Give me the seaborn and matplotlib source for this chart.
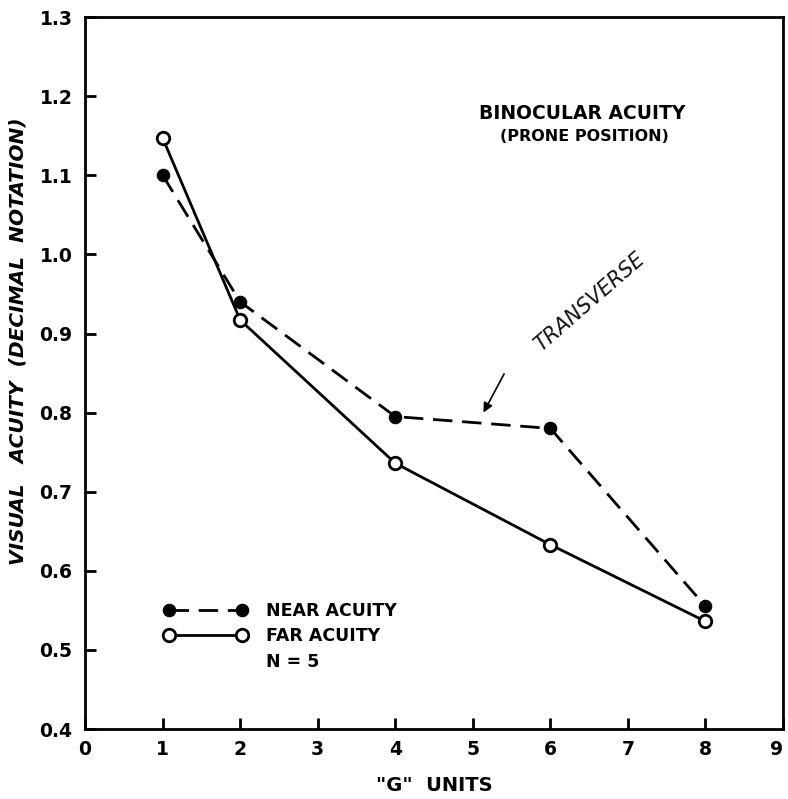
import matplotlib
matplotlib.use("Agg")
import matplotlib.pyplot as plt
from matplotlib.lines import Line2D
import seaborn as sns
import pandas as pd

# Visual acuity under increasing G load, binocular, prone position
g_units = [1, 2, 4, 6, 8]
near_acuity = [1.10, 0.94, 0.795, 0.78, 0.555]
far_acuity = [1.147, 0.917, 0.736, 0.633, 0.536]

x_ticks = [0, 1, 2, 3, 4, 5, 6, 7, 8, 9]
y_ticks = [0.4, 0.5, 0.6, 0.7, 0.8, 0.9, 1.0, 1.1, 1.2, 1.3]
y_tick_labels = ["0.4", "0.5", "0.6", "0.7", "0.8", "0.9", "1.0", "1.1", "1.2", "1.3"]

df = pd.DataFrame({"g": g_units, "near": near_acuity, "far": far_acuity})

sns.set_style("ticks")
plt.rcParams["font.family"] = ["DejaVu Sans"]
plt.rcParams["text.color"] = "black"
plt.rcParams["axes.labelcolor"] = "black"
plt.rcParams["xtick.color"] = "black"
plt.rcParams["ytick.color"] = "black"

fig = plt.figure(figsize=(7.88, 7.99), dpi=100)
ax = fig.add_axes([0.108, 0.0876, 0.8857, 0.891])

sns.lineplot(data=df, x="g", y="near", ax=ax, color="black", lw=2.0,
             dashes=False, linestyle=(0, (7, 3.5)), marker="o", markersize=9,
             markerfacecolor="black", markeredgecolor="black",
             label="NEAR ACUITY")
sns.lineplot(data=df, x="g", y="far", ax=ax, color="black", lw=2.0,
             linestyle="-", marker="o", markersize=9,
             markerfacecolor="white", markeredgecolor="black", markeredgewidth=2.0,
             label="FAR ACUITY")

ax.set_xlim(0, 9)
ax.set_ylim(0.4, 1.3)
ax.set_xticks(x_ticks)
ax.set_xticklabels([str(t) for t in x_ticks], fontweight="bold")
ax.set_yticks(y_ticks)
ax.set_yticklabels(y_tick_labels, fontweight="bold")
# keep the last x label inside the figure edge
ax.get_xticklabels()[-1].set_horizontalalignment("right")

for side in ["left", "bottom", "top", "right"]:
    ax.spines[side].set_visible(True)
    ax.spines[side].set_linewidth(2.0)
    ax.spines[side].set_color("black")

ax.tick_params(axis="both", direction="in", length=8, width=2.0,
               labelsize=13.5)
ax.tick_params(axis="x", pad=8)
ax.tick_params(axis="y", pad=9)

ax.set_xlabel('"G"  UNITS', fontsize=14, fontweight="bold", labelpad=12)
ax.set_ylabel("VISUAL   ACUITY  (DECIMAL  NOTATION)", fontsize=14.5,
              style="italic", fontweight="bold")
ax.yaxis.set_label_coords(-0.082, 0.545)

# Legend with a sample size line beneath the two series
handles, labels = ax.get_legend_handles_labels()
handles.append(Line2D([], [], linestyle="none"))
labels.append("N = 5")
ax.legend(handles, labels, loc="center left", bbox_to_anchor=(0.09, 0.13),
          frameon=False, prop={"size": 12.5, "weight": "bold"},
          handlelength=4.8, handletextpad=1.1, labelspacing=0.45, numpoints=2)

ax.text(0.712, 0.865, "BINOCULAR ACUITY", transform=ax.transAxes,
        ha="center", va="center", fontsize=13.5, fontweight="bold")
ax.text(0.716, 0.832, "(PRONE POSITION)", transform=ax.transAxes,
        ha="center", va="center", fontsize=11.5, fontweight="bold")

# Handwritten note pointing at the dashed segment
ax.annotate("", xy=(5.12, 0.797), xytext=(5.42, 0.852),
            arrowprops=dict(arrowstyle="-|>", color="black", lw=1.2,
                            mutation_scale=14))
ax.text(6.5, 0.94, "TRANSVERSE", rotation=41, ha="center", va="center",
        fontsize=15, style="italic", color="#111111")

fig.savefig("out.png", dpi=100)
